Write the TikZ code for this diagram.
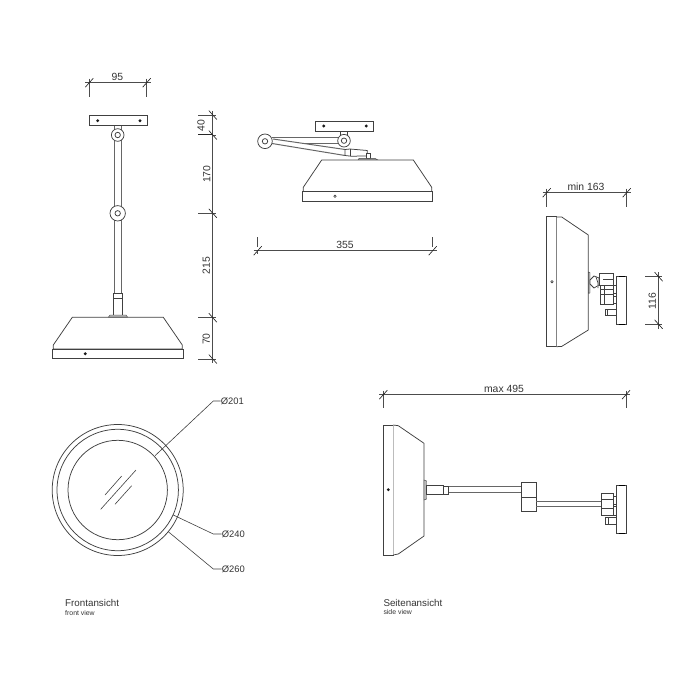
\documentclass[tikz,border=0pt]{standalone}
\usepackage{fontspec}
\setmainfont{Liberation Sans}
\definecolor{ln}{gray}{0.25}
\definecolor{dm}{gray}{0.3}
\tikzset{
  x=1pt,y=-1pt,
  part/.style={draw=ln,line width=0.75pt,fill=white},
  rod/.style={draw=ln!80,line width=1pt},
  dimline/.style={draw=dm,line width=0.6pt},
  tick/.style={draw=black!85,line width=0.65pt},
  dimtext/.style={font=\fontsize{10.4}{12}\selectfont,text=black!80,inner sep=0pt},
  dia/.style={font=\fontsize{9.4}{11}\selectfont,text=black!80,inner sep=0pt,anchor=west},
  smalltext/.style={font=\fontsize{6.9}{8}\selectfont,text=black!80,inner sep=0pt,anchor=west},
  captext/.style={font=\fontsize{9.8}{11}\selectfont,text=black!80,inner sep=0pt,anchor=west},
  pin/.style={fill=black!90,draw=none,circle,minimum size=3.2pt,inner sep=0pt},
  leader/.style={draw=ln,line width=0.6pt},
}
\newcommand{\hdim}[4]{% x1 x2 y extbottom
  \draw[dimline] (#1-4,#3)--(#2+4,#3);
  \draw[dimline] (#1,#3-4)--(#1,#4);
  \draw[dimline] (#2,#3-4)--(#2,#4);
  \draw[tick] (#1-4,#3+4.5)--(#1+4,#3-4.5);
  \draw[tick] (#2-4,#3+4.5)--(#2+4,#3-4.5);
}
\newcommand{\vtick}[2]{\draw[tick] (#1-4,#2-4.5)--(#1+4,#2+4.5);}
\begin{document}
\begin{tikzpicture}
\useasboundingbox (0,0) rectangle (699,700);
% ---------- front elevation
\hdim{89.3}{146.7}{82.7}{96.7}
\node[dimtext] (d95) at (117.3,76.5) {95};
\draw[rod] (114.3,125)--(114.3,293) (121.7,125)--(121.7,293);
\draw[part] (89.3,115.7) rectangle (147,125.7);
\node[pin] (p1) at (97.7,120.7) {};
\node[pin] (p2) at (140,120.7) {};
\draw[part] (117.7,135) circle (6.3);
\draw[part] (117.7,135) circle (2.7);
\draw[part] (117.7,213.3) circle (7.7);
\draw[part] (117.7,213.3) circle (2.7);
\draw[part] (113.3,293) rectangle (122.7,316);
\draw[part] (113.3,298.5)--(122.7,298.5);
\draw[draw=ln,fill=gray!60,line width=0.4pt] (108.3,317.3)--(110,315)--(126,315)--(127.7,317.3)--cycle;
\draw[part] (72.3,317.3)--(163.3,317.3)--(182.3,345)--(182.3,349)--(53.3,349)--(53.3,345)--cycle;
\draw[part] (52.7,349) rectangle (183.3,358.7);
\node[pin] (p3) at (85.3,353.7) {};
% vertical dim
\draw[dimline] (212.3,111)--(212.3,363);
\draw[dimline] (198.3,115)--(216,115);
\draw[draw=black!85,line width=1pt] (198.3,135)--(212,135);
\draw[dimline] (212,135)--(216,135);
\draw[dimline] (198.3,213.3)--(216,213.3);
\draw[dimline] (198.3,317.7)--(216,317.7);
\draw[dimline] (198.3,359)--(216,359);
\vtick{212.8}{115}\vtick{212.8}{135}\vtick{212.8}{213.3}\vtick{212.8}{317.7}\vtick{212.8}{359}
\node[dimtext,rotate=90] (d40) at (201,125.7) {40};
\node[dimtext,rotate=90] (d170) at (206.7,174.3) {170};
\node[dimtext,rotate=90] (d215) at (206.2,265.7) {215};
\node[dimtext,rotate=90] (d70) at (206.2,339) {70};
% ---------- top right folded view
\draw[part] (340.7,131)--(340.7,136) (347.3,131)--(347.3,136);
\draw[part] (315,121.3) rectangle (373.3,131.7);
\node[pin] (p4) at (323.7,126) {};
\node[pin] (p5) at (366.3,126) {};
\draw[rod] (272,137.7)--(339,137.7);
\draw[rod] (305,143.5)--(338,143.5);
\draw[rod] (273,139)--(345,149.5);
\draw[rod] (272,143.5)--(345,155.5);
\draw[part] (345,149.5)--(350,149)--(367.3,150.5)--(367.3,156)--(351,156.2)--(345,155.5)--cycle;
\draw[part] (350,149)--(350,156.2);
\draw[part] (366.7,153.5)--(370.7,153.5)--(370.7,158.5)--(366.7,158.5)--cycle;
\draw[draw=ln,fill=gray!60,line width=0.4pt] (358,160)--(359,158.4)--(375,158.4)--(378,160)--cycle;
\draw[part] (265,141.3) circle (7.3);
\draw[part] (265,141.3) circle (2.7);
\draw[part] (344,140.7) circle (6.3);
\draw[part] (344,140.7) circle (2.7);
\draw[part] (321.7,160)--(413.3,160)--(431.7,187.3)--(431.7,191.7)--(303.3,191.7)--(303.3,187.3)--cycle;
\draw[part] (302.3,191.7) rectangle (432.7,201.3);
\draw[part,line width=0.6pt] (335,196.3) circle (1.2);
\hdim{257.7}{432.7}{250.7}{236.7}
\draw[dimline] (257.7,250.7)--(257.7,254);
\node[dimtext] (d355) at (345,244.5) {355};
% ---------- right view, min
\hdim{546.7}{626.7}{192.7}{206.7}
\node[dimtext] (dmin) at (586,186.8) {min 163};
\draw[part] (546.7,216.7) rectangle (556.7,346.7);
\draw[part] (556.7,217)--(561.7,217)--(588.3,235)--(588.3,330)--(561.7,346.4)--(556.7,346.7);
\draw[draw=ln,fill=gray!55,line width=0.4pt] (588.3,272)--(590,272.5)--(590,293)--(588.3,293.3)--cycle;
\draw[part,line width=0.6pt] (552,281.7) circle (1.2);
\draw[part] (590,280)--(594,276)--(599,278)--(599,285)--(594,288)--(590,284)--cycle;
\draw[part] (596,277)--(598,283)--(598,288);
\draw[part] (599,273.3) rectangle (613.3,285);
\draw[part] (600.7,285) rectangle (613.3,304);
\draw[part] (603,279)--(613.3,279);
\draw[part] (600.7,289)--(613.3,289);
\draw[part] (600.7,294)--(613.3,294);
\draw[part] (604.5,285)--(604.5,304);
\draw[part] (613.3,285) rectangle (616.7,293);
\draw[part] (613.3,296) rectangle (616.7,303);
\draw[part] (605,309.3) rectangle (616.7,315.7);
\draw[part] (607.5,309.3)--(607.5,315.7);
\draw[part] (616.7,276.7) rectangle (626.7,324.3);
\draw[draw=black,line width=1.2pt] (618.5,276.7)--(624.5,276.7) (618.5,324.3)--(624.5,324.3);
\draw[dimline] (645,276.7)--(662,276.7);
\draw[dimline] (645,324.3)--(662,324.3);
\draw[dimline] (658.3,272)--(658.3,329);
\vtick{658.6}{276.7}\vtick{658.6}{324.3}
\node[dimtext,rotate=90] (d116) at (652.3,301) {116};
% ---------- circles
\draw[part,fill=none] (117.7,490) circle (65.5);
\draw[part,fill=none] (117.7,490) circle (60.7);
\draw[part,fill=none] (117.7,490) circle (49.7);
\draw[leader] (105,495)--(121.7,476) (100.7,509.3)--(136,470) (115,504.3)--(131.7,485.7);
\node[dia] (o201) at (220.7,401) {Ø201};
\node[dia] (o240) at (221.7,534) {Ø240};
\node[dia] (o260) at (221.7,569) {Ø260};
\coordinate (l201) at (155,455.7);
\coordinate (l240) at (173.3,515);
\coordinate (l260) at (168.3,531.7);
\draw[leader] (l201)--(213.3,401)--(o201.west);
\draw[leader] (l240)--(213.3,534)--(o240.west);
\draw[leader] (l260)--(213.3,569)--(o260.west);
% ---------- side view max
\hdim{383.3}{626}{394.7}{408.3}
\node[dimtext] (dmax) at (504,389) {max 495};
\draw[part] (383.3,425) rectangle (393.3,555);
\draw[part] (393.3,425)--(398.3,425.7)--(424,443.3)--(424,536)--(398.3,554)--(393.3,555);
\node[pin] (p6) at (388.3,489.7) {};
\draw[draw=ln,fill=gray!55,line width=0.4pt] (424,480)--(426.7,481)--(426.7,499)--(424,500)--cycle;
\draw[part] (426.7,485) rectangle (443.3,494.3);
\draw[part] (443.3,486.7) rectangle (448.7,494);
\draw[rod] (448.7,486.9)--(521,486.9) (448.7,492.7)--(521,492.7);
\draw[part] (521,482.7) rectangle (536,497.3);
\draw[part] (521,497.3) rectangle (536,511.7);
\draw[rod] (536,501.2)--(601,501.2) (536,506.7)--(601,506.7);
\draw[part] (601,493.3) rectangle (613.3,515);
\draw[part] (601,499.3)--(613.3,499.3) (601,508.3)--(613.3,508.3);
\draw[part] (613.3,496) rectangle (616.7,504);
\draw[part] (613.3,506) rectangle (616.7,515);
\draw[part] (605.7,517.7) rectangle (616.7,524);
\draw[part] (608,517.7)--(608,524);
\draw[part] (616.7,485.3) rectangle (626.7,533.3);
\draw[draw=black,line width=1.2pt] (618.5,485.3)--(624.5,485.3) (618.5,533.3)--(624.5,533.3);
% ---------- captions
\node[captext] (c1) at (65,603.3) {Frontansicht};
\node[smalltext] (c2) at (65,613.3) {front view};
\node[captext] (c3) at (383.3,602.5) {Seitenansicht};
\node[smalltext] (c4) at (383.3,612.5) {side view};
\end{tikzpicture}
\end{document}
